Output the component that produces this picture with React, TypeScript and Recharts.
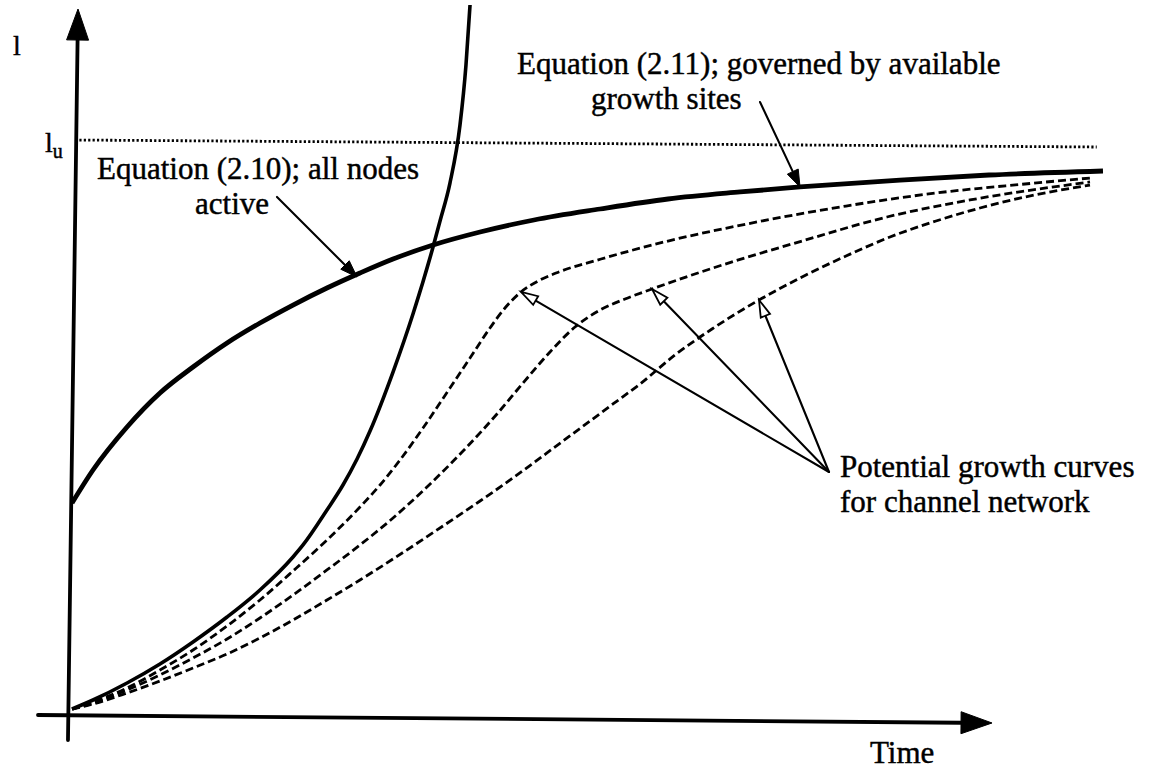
import React from 'react';
import { ComposedChart, Line, XAxis, YAxis, ReferenceLine } from 'recharts';

// Values: t = time (arbitrary units), l = length (l_u = 100)
const eq211Curve = [
  [0.22, 36.87], [2.5, 42.61], [6.2, 50.09], [9.78, 56.0], [13.37, 60.52], [17.07, 64.7],
  [20.65, 68.17], [24.24, 71.3], [27.93, 74.26], [31.52, 76.87], [35.11, 79.3], [39.46, 81.74],
  [44.57, 84.0], [50.43, 86.09], [57.61, 88.0], [65.0, 89.74], [72.83, 90.96], [79.35, 91.83],
  [90.22, 93.04], [99.89, 93.91], [112.28, 94.61],
];

const eq210Curve = [
  [0.22, 1.04], [2.5, 2.61], [6.2, 5.57], [9.78, 8.87], [13.37, 12.7], [17.07, 17.04],
  [20.65, 21.74], [24.24, 27.48], [25.33, 29.57], [27.93, 35.65], [29.67, 40.0], [31.2, 44.52],
  [32.61, 49.39], [35.11, 59.65], [37.28, 69.74], [39.46, 81.39], [40.22, 85.91], [41.3, 92.52],
  [42.39, 102.61], [43.04, 113.04], [43.48, 123.48],
];

const potential1 = [
  [0.22, 1.04], [2.5, 2.26], [6.2, 4.7], [9.78, 7.83], [13.37, 11.3], [17.07, 15.48],
  [20.65, 20.0], [24.24, 25.04], [27.93, 30.43], [31.52, 36.17], [33.7, 40.0], [35.87, 44.35],
  [38.37, 49.91], [41.3, 56.87], [43.48, 62.09], [45.65, 67.3], [47.28, 70.78], [49.02, 73.57],
  [51.09, 75.65], [52.83, 76.87], [57.72, 79.3], [65.0, 82.43], [74.67, 85.74], [84.35, 88.52],
  [94.13, 90.78], [103.8, 92.35], [110.87, 93.39],
];

const potential2 = [
  [0.22, 1.04], [2.5, 2.09], [6.2, 4.35], [9.78, 6.96], [13.37, 9.91], [17.07, 13.22],
  [20.65, 16.87], [24.24, 20.87], [27.93, 25.22], [31.52, 29.57], [35.11, 34.26], [38.8, 39.65],
  [42.72, 45.91], [46.41, 52.35], [49.24, 57.74], [52.17, 63.13], [54.89, 67.48], [57.61, 70.43],
  [60.33, 72.35], [63.26, 74.09], [69.89, 77.74], [79.57, 82.43], [88.8, 86.61], [97.83, 89.57],
  [110.87, 92.7],
];

const potential3 = [
  [0.22, 1.04], [2.5, 1.91], [6.2, 3.83], [9.78, 5.91], [13.37, 8.17], [17.07, 10.61],
  [20.65, 13.39], [24.24, 16.52], [27.93, 20.0], [31.52, 23.48], [35.11, 27.13], [40.54, 32.87],
  [44.57, 37.22], [47.07, 40.0], [53.59, 47.65], [59.02, 54.09], [61.96, 57.57], [65.76, 62.61],
  [69.78, 67.13], [74.89, 72.17], [79.35, 76.0], [84.35, 79.83], [89.13, 83.13], [94.13, 85.91],
  [98.91, 88.17], [103.8, 90.09], [110.87, 92.17],
];

const upperLimit = [[0.54, 100], [111.6, 98.78]];
const yAxisLine = [[-0.22, -4.35], [0.87, 122.78]];
const xAxisLine = [[-3.48, 0], [100.22, -1.39]];

const arrow210 = [[22.5, 90.09], [31.2, 76.17]];
const arrow211 = [[75.0, 106.61], [79.35, 91.83]];
const potentialFrom = [82.5, 42.26];
const potentialTips = [[49.02, 73.57], [63.26, 74.09], [74.89, 72.17]];

const labelL = 'l';
const labelLuMain = 'l';
const labelLuSub = 'u';
const labelTime = 'Time';
const label210 = ['Equation (2.10); all nodes', 'active'];
const label211 = ['Equation (2.11); governed by available', 'growth sites'];
const labelPotential = ['Potential growth curves', 'for channel network'];

const toPts = (a: number[][]) => a.map(([t, l]) => ({ t, l }));
const toSeg = (a: number[][]) => a.map(([x, y]) => ({ x, y }));

const FONT = '"Liberation Serif", "Times New Roman", Times, serif';

type HeadOpts = { len: number; half: number; filled: boolean; sw: number; headSw?: number };

const arrowShape = (o: HeadOpts) => (p: any) => {
  const { x1, y1, x2, y2 } = p;
  const dx = x2 - x1;
  const dy = y2 - y1;
  const L = Math.hypot(dx, dy) || 1;
  const ux = dx / L;
  const uy = dy / L;
  const bx = x2 - ux * o.len;
  const by = y2 - uy * o.len;
  const nx = -uy;
  const ny = ux;
  const pts = `${x2},${y2} ${bx + nx * o.half},${by + ny * o.half} ${bx - nx * o.half},${by - ny * o.half}`;
  return (
    <g>
      <line x1={x1} y1={y1} x2={bx} y2={by} stroke="#000" strokeWidth={o.sw} strokeLinecap="round" />
      <polygon
        points={pts}
        fill={o.filled ? '#000' : '#fff'}
        stroke="#000"
        strokeWidth={o.headSw ?? 1.6}
        strokeLinejoin="miter"
      />
    </g>
  );
};

const axisArrow = arrowShape({ len: 31, half: 11, filled: true, sw: 3.8, headSw: 1 });
const filledArrow = arrowShape({ len: 17, half: 6, filled: true, sw: 2.1, headSw: 1 });
const openArrow = arrowShape({ len: 17, half: 5, filled: false, sw: 2.1, headSw: 1.8 });

export default function App() {
  const textStyle = {
    fontFamily: FONT,
    fontSize: 31,
    fill: '#000',
    stroke: '#000',
    strokeWidth: 0.45,
  } as const;
  return (
    <div style={{ position: 'absolute', left: 0, top: 0, width: 1154, height: 771, background: '#fff' }}>
      <ComposedChart width={1154} height={771} margin={{ top: 0, right: 0, bottom: 0, left: 0 }}>
        <XAxis type="number" dataKey="t" domain={[-7.609, 117.826]} hide allowDataOverflow />
        <YAxis type="number" dataKey="l" domain={[-9.739, 124.348]} hide allowDataOverflow />

        <ReferenceLine segment={toSeg(yAxisLine)} shape={axisArrow} ifOverflow="visible" />
        <ReferenceLine segment={toSeg(xAxisLine)} shape={axisArrow} ifOverflow="visible" />
        <ReferenceLine
          segment={toSeg(upperLimit)}
          stroke="#000"
          strokeWidth={2.8}
          strokeDasharray="2.2 2.2"
          ifOverflow="visible"
        />

        <Line data={toPts(potential1)} dataKey="l" type="monotone" stroke="#000" strokeWidth={2.8}
          strokeDasharray="8 4" dot={false} activeDot={false} isAnimationActive={false} />
        <Line data={toPts(potential2)} dataKey="l" type="monotone" stroke="#000" strokeWidth={2.8}
          strokeDasharray="8 4" dot={false} activeDot={false} isAnimationActive={false} />
        <Line data={toPts(potential3)} dataKey="l" type="monotone" stroke="#000" strokeWidth={2.8}
          strokeDasharray="8 4" dot={false} activeDot={false} isAnimationActive={false} />
        <Line data={toPts(eq210Curve)} dataKey="l" type="monotone" stroke="#000" strokeWidth={3.6}
          dot={false} activeDot={false} isAnimationActive={false} />
        <Line data={toPts(eq211Curve)} dataKey="l" type="monotone" stroke="#000" strokeWidth={4.8}
          dot={false} activeDot={false} isAnimationActive={false} />

        <ReferenceLine segment={toSeg(arrow210)} shape={filledArrow} ifOverflow="visible" />
        <ReferenceLine segment={toSeg(arrow211)} shape={filledArrow} ifOverflow="visible" />
        {potentialTips.map((tip, i) => (
          <ReferenceLine key={i} segment={toSeg([potentialFrom, tip])} shape={openArrow} ifOverflow="visible" />
        ))}

        <text x={13} y={55} style={{ ...textStyle, fontSize: 28 }}>{labelL}</text>
        <text x={45} y={152} style={{ ...textStyle, fontSize: 28 }}>
          {labelLuMain}
          <tspan dy={6} style={{ fontSize: 20 }}>{labelLuSub}</tspan>
        </text>
        <text x={97} y={179} style={textStyle}>{label210[0]}</text>
        <text x={195} y={214} style={textStyle}>{label210[1]}</text>
        <text x={517} y={74} style={textStyle}>{label211[0]}</text>
        <text x={591} y={109} style={textStyle}>{label211[1]}</text>
        <text x={840} y={477} style={textStyle}>{labelPotential[0]}</text>
        <text x={840} y={512} style={textStyle}>{labelPotential[1]}</text>
        <text x={870} y={763} style={textStyle}>{labelTime}</text>
      </ComposedChart>
    </div>
  );
}
